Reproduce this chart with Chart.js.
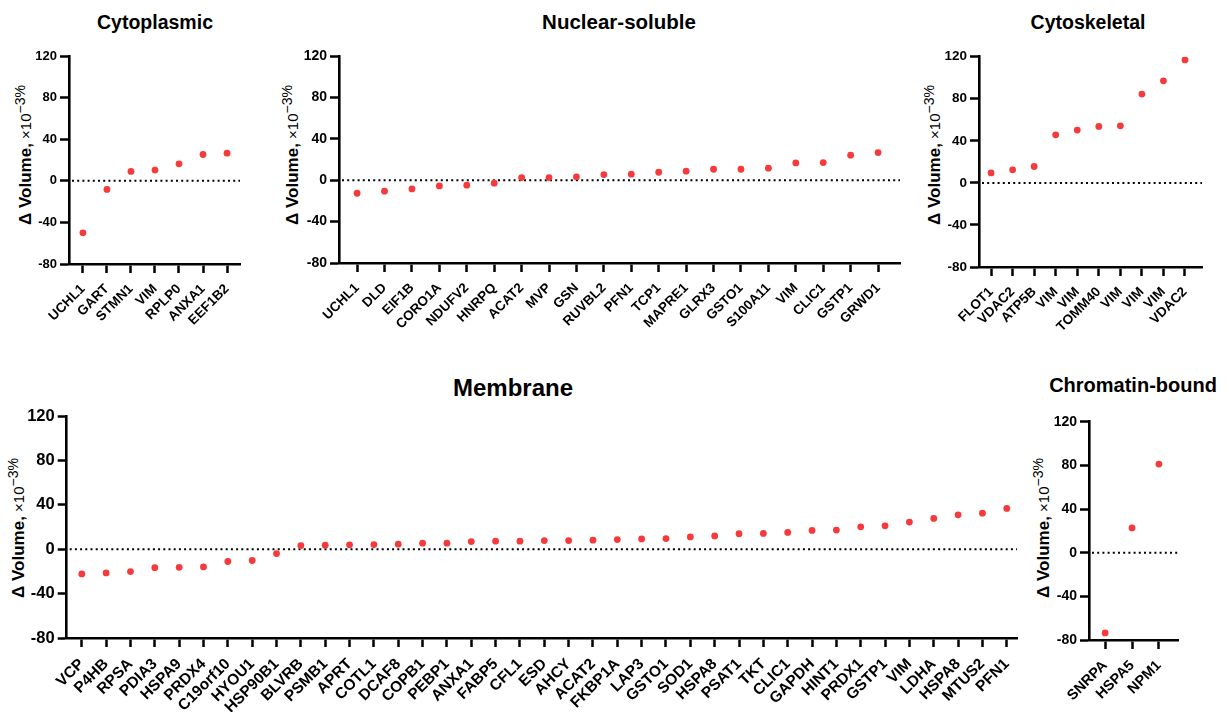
<!DOCTYPE html>
<html>
<head>
  <meta charset="utf-8">
  <title>Δ Volume by cell fraction</title>
  <script src="https://cdn.jsdelivr.net/npm/chart.js"></script>
  <style>
    body {
      margin: 0;
      background: #fff;
      width: 1231px;
      height: 712px;
      position: relative;
      overflow: hidden;
      font-family: "Liberation Sans", Arial, sans-serif;
      color: #000;
    }
    canvas { position: absolute; }
    .title {
      position: absolute;
      font-weight: bold;
      white-space: nowrap;
      transform: translate(-50%, -50%);
    }
    .ytitle {
      position: absolute;
      white-space: nowrap;
      font-size: 15px;
      transform: translate(-50%, -50%) rotate(-90deg);
    }
    .ytitle b { font-size: 17px; }
    .ytitle sup { font-size: 14px; }
  </style>
</head>
<body>
  <script>
    // Cytoplasmic fraction
    const cytoLabels = ["UCHL1", "GART", "STMN1", "VIM", "RPLP0", "ANXA1", "EEF1B2"];
    const cytoValues = [-50, -8.3, 9, 10.3, 16.3, 25.3, 26.6];

    // Nuclear-soluble fraction
    const nucLabels = ["UCHL1", "DLD", "EIF1B", "CORO1A", "NDUFV2", "HNRPQ", "ACAT2", "MVP", "GSN", "RUVBL2",
      "PFN1", "TCP1", "MAPRE1", "GLRX3", "GSTO1", "S100A11", "VIM", "CLIC1", "GSTP1", "GRWD1"];
    const nucValues = [-12.6, -10.6, -8.4, -5.5, -4.8, -2.9, 2.5, 2.5, 3.2, 5.4,
      5.8, 7.7, 8.7, 10.6, 10.6, 11.6, 16.7, 17, 24.2, 26.7];

    // Cytoskeletal fraction
    const skelLabels = ["FLOT1", "VDAC2", "ATP5B", "VIM", "VIM", "TOMM40", "VIM", "VIM", "VIM", "VDAC2"];
    const skelValues = [9.5, 12.4, 15.6, 45.7, 50.2, 53.7, 54.3, 84.5, 97.1, 116.9];

    // Membrane fraction
    const memLabels = ["VCP", "P4HB", "RPSA", "PDIA3", "HSPA9", "PRDX4", "C19orf10", "HYOU1", "HSP90B1", "BLVRB",
      "PSMB1", "APRT", "COTL1", "DCAF8", "COPB1", "PEBP1", "ANXA1", "FABP5", "CFL1", "ESD",
      "AHCY", "ACAT2", "FKBP1A", "LAP3", "GSTO1", "SOD1", "HSPA8", "PSAT1", "TKT", "CLIC1",
      "GAPDH", "HINT1", "PRDX1", "GSTP1", "VIM", "LDHA", "HSPA8", "MTUS2", "PFN1"];
    const memValues = [-22.3, -21.4, -20.2, -16.6, -16.3, -16, -11.1, -10.2, -3.9, 3.3,
      3.6, 3.9, 4.2, 4.5, 5.4, 5.4, 6.9, 7.2, 7.2, 7.8,
      7.8, 8.1, 8.7, 9.3, 9.6, 11.1, 12, 13.9, 14.2, 15.1,
      16.9, 17.2, 20.2, 21.1, 24.4, 27.7, 31, 32.5, 36.7];

    // Chromatin-bound fraction
    const chromLabels = ["SNRPA", "HSPA5", "NPM1"];
    const chromValues = [-73.5, 22.7, 81.2];

    const yTicks = [-80, -40, 0, 40, 80, 120];

    const FONT = "'Liberation Sans', Arial, sans-serif";
    const RED = "rgb(246, 58, 60)";
    const Y_W = 42;   // width reserved for y tick labels + marks
    const X_H = 90;   // height reserved for rotated category labels
    const PAD_T = 12;
    const PAD_R = 12;

    // left/right/top/bottom = plot area edges in page pixels
    const panels = [
      { title: "Cytoplasmic", labels: cytoLabels, values: cytoValues,
        left: 69, right: 240, top: 56, bottom: 264, xMin: -0.58, xMax: 6.54,
        tx: 155, ty: 22, yx: 24, yy: 155, titleSize: 19.5, tickSize: 13, labelSize: 13.5, labelPad: 8 },
      { title: "Nuclear-soluble", labels: nucLabels, values: nucValues,
        left: 339, right: 900, top: 56, bottom: 263, xMin: -0.66, xMax: 19.8,
        tx: 619, ty: 22, yx: 291, yy: 155, titleSize: 20.5, tickSize: 14, labelSize: 13.5, labelPad: 8 },
      { title: "Cytoskeletal", labels: skelLabels, values: skelValues,
        left: 979, right: 1202, top: 56.7, bottom: 266.7, xMin: -0.56, xMax: 9.79,
        tx: 1088, ty: 22, yx: 933, yy: 155, titleSize: 19.5, tickSize: 13.5, labelSize: 13.5, labelPad: 8 },
      { title: "Membrane", labels: memLabels, values: memValues,
        left: 66.7, right: 1017, top: 416, bottom: 637.3, xMin: -0.62, xMax: 38.42,
        tx: 513, ty: 388, yx: 17, yy: 528, titleSize: 24, tickSize: 16.5, labelSize: 15.5, labelPad: 8 },
      { title: "Chromatin-bound", labels: chromLabels, values: chromValues,
        left: 1089, right: 1178, top: 421.7, bottom: 639.3, xMin: -0.6, xMax: 2.71,
        tx: 1133, ty: 385, yx: 1042, yy: 528, titleSize: 20, tickSize: 14, labelSize: 14.5, labelPad: 8 }
    ];

    // dotted line at zero across the plot area
    const zeroLine = {
      id: "zeroLine",
      beforeDatasetsDraw(chart) {
        const { ctx, chartArea: a, scales: { y } } = chart;
        const py = y.getPixelForValue(0);
        ctx.save();
        ctx.strokeStyle = "#000";
        ctx.lineWidth = 2;
        ctx.setLineDash([2, 3.2]);
        ctx.beginPath();
        ctx.moveTo(a.left + 3, py);
        ctx.lineTo(a.right, py);
        ctx.stroke();
        ctx.restore();
      }
    };

    function axisStyle(tickLen) {
      return {
        grid: { drawOnChartArea: false, drawTicks: true, tickLength: tickLen, tickWidth: 2.5, tickColor: "#000" },
        border: { display: true, color: "#000", width: 2.6 }
      };
    }

    function makePanel(p) {
      const t = document.createElement("div");
      t.className = "title";
      t.textContent = p.title;
      t.style.fontSize = p.titleSize + "px";
      t.style.left = p.tx + "px";
      t.style.top = p.ty + "px";
      document.body.appendChild(t);

      const yt = document.createElement("div");
      yt.className = "ytitle";
      yt.innerHTML = "<b>Δ Volume,</b> ×10<sup>−3</sup><sup>%</sup>";
      yt.style.left = p.yx + "px";
      yt.style.top = p.yy + "px";
      document.body.appendChild(yt);

      const cLeft = Math.floor(p.left - Y_W);
      const cTop = Math.floor(p.top - PAD_T);
      const padL = p.left - Y_W - cLeft;
      const padT = p.top - cTop;
      const w = Math.ceil(p.right - cLeft + PAD_R);
      const h = Math.ceil(p.bottom - cTop + X_H);

      const cv = document.createElement("canvas");
      cv.width = w;
      cv.height = h;
      cv.style.left = cLeft + "px";
      cv.style.top = cTop + "px";
      document.body.appendChild(cv);

      new Chart(cv, {
        type: "scatter",
        data: {
          datasets: [{
            data: p.values.map((v, i) => ({ x: i, y: v })),
            backgroundColor: RED,
            borderWidth: 0,
            pointRadius: 3.4
          }]
        },
        options: {
          responsive: false,
          animation: false,
          layout: { padding: { left: padL, top: padT, right: PAD_R, bottom: 0 } },
          plugins: { legend: { display: false }, tooltip: { enabled: false } },
          scales: {
            x: Object.assign({
              type: "linear",
              min: p.xMin,
              max: p.xMax,
              afterBuildTicks: s => { s.ticks = p.labels.map((_, i) => ({ value: i })); },
              afterFit: s => { s.height = X_H; s.paddingLeft = 0; s.paddingRight = 0; },
              ticks: {
                autoSkip: false, minRotation: 45, maxRotation: 45, padding: p.labelPad, color: "#000",
                font: { family: FONT, weight: "bold", size: p.labelSize },
                callback: v => p.labels[v]
              }
            }, axisStyle(9)),
            y: Object.assign({
              min: -80,
              max: 120,
              afterBuildTicks: s => { s.ticks = yTicks.map(v => ({ value: v })); },
              afterFit: s => { s.width = Y_W; s.paddingTop = 0; s.paddingBottom = 0; },
              ticks: {
                padding: 3, color: "#000",
                font: { family: FONT, weight: "bold", size: p.tickSize }
              }
            }, axisStyle(9))
          }
        },
        plugins: [zeroLine]
      });
    }

    panels.forEach(makePanel);
  </script>
</body>
</html>
